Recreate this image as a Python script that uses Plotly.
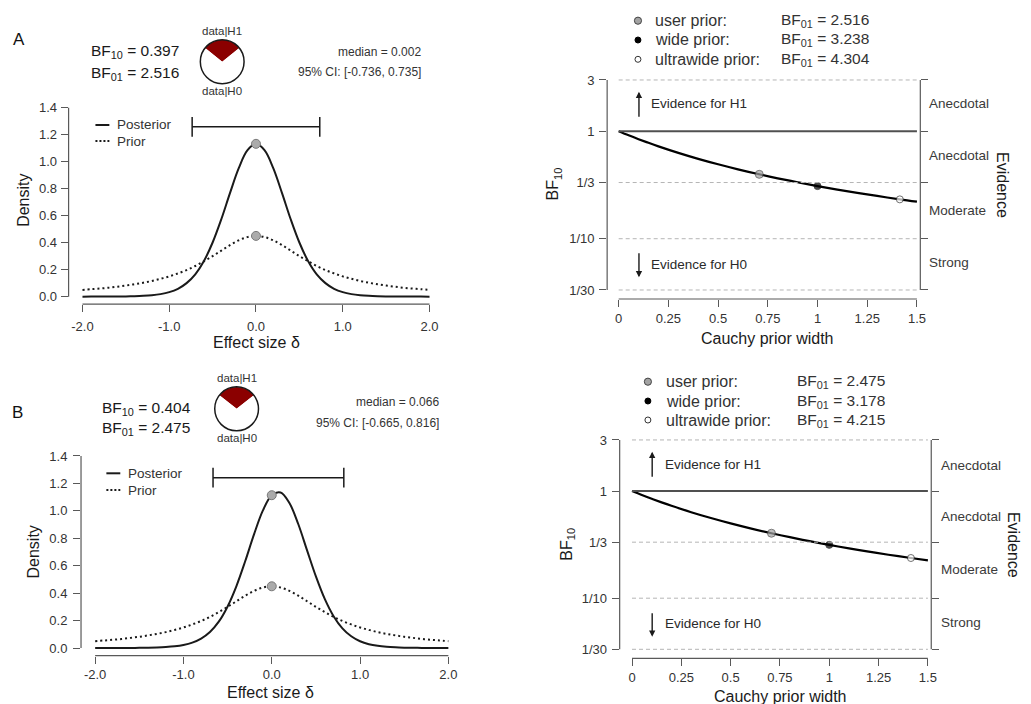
import math
import plotly.graph_objects as go

W, H = 1031, 704
FONT = "Liberation Sans, Arial, Helvetica, sans-serif"
INK = "#1a1a1a"
AXC = "#595959"
TXT = "#333333"

# ---------------- data ----------------
# effect size grid and densities (prior is the same Cauchy in both rows)
delta = [-2.0, -1.9, -1.8, -1.7, -1.6, -1.5, -1.4, -1.3, -1.2, -1.1, -1.0,
         -0.9, -0.8, -0.7, -0.6, -0.5, -0.4, -0.3, -0.2, -0.1, 0.0,
         0.1, 0.2, 0.3, 0.4, 0.5, 0.6, 0.7, 0.8, 0.9, 1.0,
         1.1, 1.2, 1.3, 1.4, 1.5, 1.6, 1.7, 1.8, 1.9, 2.0]
prior_density = [0.050, 0.055, 0.060, 0.066, 0.074, 0.082, 0.092, 0.103, 0.116, 0.132, 0.150,
                 0.172, 0.197, 0.227, 0.262, 0.300, 0.341, 0.382, 0.417, 0.441, 0.450,
                 0.441, 0.417, 0.382, 0.341, 0.300, 0.262, 0.227, 0.197, 0.172, 0.150,
                 0.132, 0.116, 0.103, 0.092, 0.082, 0.074, 0.066, 0.060, 0.055, 0.050]
posterior_A = [0.0001, 0.0002, 0.0003, 0.0005, 0.0010, 0.0017, 0.0031, 0.0057, 0.0103, 0.0186, 0.0332,
               0.058, 0.100, 0.165, 0.264, 0.401, 0.573, 0.767, 0.950, 1.083, 1.132,
               1.083, 0.950, 0.767, 0.573, 0.401, 0.264, 0.165, 0.100, 0.058, 0.0332,
               0.0186, 0.0103, 0.0057, 0.0031, 0.0017, 0.0010, 0.0005, 0.0003, 0.0002, 0.0001]
posterior_B = [0.0001, 0.0001, 0.0002, 0.0004, 0.0007, 0.0012, 0.0021, 0.0038, 0.0069, 0.0124, 0.0223,
               0.0396, 0.069, 0.117, 0.192, 0.303, 0.452, 0.634, 0.830, 1.003, 1.114,
               1.134, 1.057, 0.904, 0.712, 0.522, 0.358, 0.232, 0.1435, 0.0856, 0.0495,
               0.0281, 0.0157, 0.0087, 0.0048, 0.0026, 0.0015, 0.0008, 0.0005, 0.0003, 0.0002]

bf10_text = [0.397, 0.404]
bf01_text = [2.516, 2.475]
posterior_at_zero = [1.132, 1.114]
prior_at_zero = [0.450, 0.450]
medians = [0.002, 0.066]
ci_lower = [-0.736, -0.665]
ci_upper = [0.735, 0.816]

# Bayes factor robustness over the Cauchy prior width
prior_width = [0.0, 0.05, 0.1, 0.15, 0.2, 0.3, 0.4, 0.5, 0.6, 0.707, 0.8, 0.9,
               1.0, 1.1, 1.2, 1.3, 1.414, 1.5]
robust_bf10_A = [1.0, 0.9167, 0.8440, 0.7801, 0.7237, 0.6293, 0.5538, 0.4926, 0.4422, 0.3975,
                 0.3649, 0.3352, 0.3088, 0.2866, 0.2670, 0.2499, 0.2323, 0.2210]
robust_bf10_B = [1.0, 0.9185, 0.8470, 0.7841, 0.7285, 0.6349, 0.5599, 0.4988, 0.4484, 0.4040,
                 0.3710, 0.3406, 0.3147, 0.2917, 0.2721, 0.2545, 0.2372, 0.2253]
named_widths = [0.707, 1.0, 1.414]
named_priors = ["user prior:", "wide prior:", "ultrawide prior:"]
named_bf01_A = [2.516, 3.238, 4.304]
named_bf01_B = [2.475, 3.178, 4.215]

# tick values / labels
delta_ticks = [-2, -1, 0, 1, 2]
delta_tick_labels = ["-2.0", "-1.0", "0.0", "1.0", "2.0"]
density_ticks = [0, 0.2, 0.4, 0.6, 0.8, 1.0, 1.2, 1.4]
density_tick_labels = ["0.0", "0.2", "0.4", "0.6", "0.8", "1.0", "1.2", "1.4"]
width_ticks = [0, 0.25, 0.5, 0.75, 1, 1.25, 1.5]
width_tick_labels = ["0", "0.25", "0.5", "0.75", "1", "1.25", "1.5"]
bf_ticks = [3, 1, 1 / 3, 1 / 10, 1 / 30]
bf_tick_labels = ["3", "1", "1/3", "1/10", "1/30"]
evidence_bands = ["Anecdotal", "Anecdotal", "Moderate", "Strong"]

# ---------------- helpers ----------------
def fx(p):
    return p / W


def fy(p):
    return 1 - p / H


fig = go.Figure()
shapes = []
annotations = []


def text(x, y, s, size, xanchor="left", color=TXT, angle=0):
    annotations.append(dict(x=fx(x), y=fy(y), xref="paper", yref="paper", text=s,
                            showarrow=False, xanchor=xanchor, yanchor="middle",
                            textangle=angle, font=dict(family=FONT, size=size, color=color)))


def hline_px(x0, x1, y, color=INK, width=2, dash=None):
    shapes.append(dict(type="line", xref="paper", yref="paper", x0=fx(x0), x1=fx(x1),
                       y0=fy(y), y1=fy(y), line=dict(color=color, width=width, dash=dash)))


def circle_px(cx, cy, r, fill, line_color, lw=1):
    shapes.append(dict(type="circle", xref="paper", yref="paper", x0=fx(cx - r), x1=fx(cx + r),
                       y0=fy(cy + r), y1=fy(cy - r), fillcolor=fill,
                       line=dict(color=line_color, width=lw), layer="above"))


def arrow_px(x, y_head, y_tail):
    annotations.append(dict(x=fx(x), y=fy(y_head), xref="paper", yref="paper", text="",
                            showarrow=True, ax=0, ay=y_tail - y_head, arrowhead=2,
                            arrowsize=0.9, arrowwidth=1.4, arrowcolor=INK))


axis_common = dict(showgrid=False, zeroline=False, showline=False, ticks="outside",
                   ticklen=7, tickwidth=1, tickcolor=AXC, fixedrange=True,
                   tickfont=dict(family=FONT, size=13, color=TXT))


# ---------------- prior / posterior panels ----------------
def density_panel(i, xa, ya, g, posterior):
    xs = "x" if xa == "xaxis" else "x" + xa[5:]
    ys = "y" if ya == "yaxis" else "y" + ya[5:]
    fig.add_trace(go.Scatter(x=delta, y=prior_density, mode="lines", xaxis=xs, yaxis=ys,
                             line=dict(color=INK, width=2, dash="2px,3px", shape="spline"),
                             hoverinfo="skip", showlegend=False))
    fig.add_trace(go.Scatter(x=delta, y=posterior, mode="lines", xaxis=xs, yaxis=ys,
                             line=dict(color=INK, width=2, shape="spline"),
                             hoverinfo="skip", showlegend=False))
    fig.add_trace(go.Scatter(x=[ci_lower[i], ci_upper[i]], y=[g["ci_y"], g["ci_y"]],
                             mode="lines+markers", xaxis=xs, yaxis=ys,
                             line=dict(color=INK, width=1.5),
                             marker=dict(symbol="line-ns", size=14, line=dict(color=INK, width=1.5)),
                             hoverinfo="skip", showlegend=False))
    fig.add_trace(go.Scatter(x=[0, 0], y=[posterior_at_zero[i], prior_at_zero[i]], mode="markers",
                             xaxis=xs, yaxis=ys,
                             marker=dict(size=9, color="#ababab", line=dict(color="#7a7a7a", width=1)),
                             hoverinfo="skip", showlegend=False))

    fig.update_layout(**{
        xa: dict(domain=[fx(g["x0"]), fx(g["x1"])], range=[-2.16, 2.16], anchor=ys,
                 tickvals=delta_ticks, ticktext=delta_tick_labels,
                 ticklabelstandoff=g["xstand"], **axis_common),
        ya: dict(domain=[fy(g["y1"]), fy(g["y0"])], range=[-0.056, 1.456], anchor=xs,
                 tickvals=density_ticks, ticktext=density_tick_labels,
                 ticklabelstandoff=g["ystand"], **axis_common),
    })
    # R-style axis lines spanning first to last tick
    shapes.append(dict(type="line", xref=xs, yref=ys + " domain", x0=delta_ticks[0],
                       x1=delta_ticks[-1], y0=0, y1=0, line=dict(color=AXC, width=1.2)))
    shapes.append(dict(type="line", xref=xs + " domain", yref=ys, x0=0, x1=0,
                       y0=density_ticks[0], y1=density_ticks[-1], line=dict(color=AXC, width=1.2)))

    # axis titles
    text(g["xt_x"], g["xt_y"], "Effect size \u03b4", 16, xanchor="center", color=INK)
    text(g["yt_x"], g["yt_y"], "Density", 16, xanchor="center", color=INK, angle=-90)

    # legend
    hline_px(g["lg_x"], g["lg_x"] + 14, g["lg_y1"], color=INK, width=2)
    hline_px(g["lg_x"], g["lg_x"] + 14, g["lg_y2"], color=INK, width=2, dash="2px,2px")
    text(g["lg_x"] + 20, g["lg_y1"], "Posterior", 13.5, color=TXT)
    text(g["lg_x"] + 20, g["lg_y2"], "Prior", 13.5, color=TXT)

    # Bayes factor texts
    text(g["bf_x"], g["bf_y1"], "BF<sub>10</sub> = %.3f" % bf10_text[i], 15.5, color=INK)
    text(g["bf_x"], g["bf_y2"], "BF<sub>01</sub> = %.3f" % bf01_text[i], 15.5, color=INK)
    text(g["md_x"], g["md_y1"], "median = %.3f" % medians[i], 12, xanchor="right", color=TXT)
    text(g["md_x"], g["md_y2"], "95%% CI: [%.3f, %.3f]" % (ci_lower[i], ci_upper[i]), 12,
         xanchor="right", color=TXT)

    # probability wheel
    cx, cy, r = g["pie_cx"], g["pie_cy"], g["pie_r"]
    red_angle = 360 * bf10_text[i] / (1 + bf10_text[i])
    fig.add_trace(go.Pie(values=[bf10_text[i], 1], labels=["data|H1", "data|H0"], sort=False,
                         direction="clockwise", rotation=-red_angle / 2,
                         marker=dict(colors=["#8b0000", "#ffffff"], line=dict(width=0)),
                         textinfo="none", hoverinfo="skip", showlegend=False,
                         domain=dict(x=[fx(cx - r), fx(cx + r)], y=[fy(cy + r), fy(cy - r)])))
    circle_px(cx, cy, r, "rgba(0,0,0,0)", INK, lw=1.5)
    text(cx, cy - r - 9, "data|H1", 11.5, xanchor="center", color=TXT)
    text(cx, cy + r + 7, "data|H0", 11.5, xanchor="center", color=TXT)

    text(g["tag_x"], g["tag_y"], g["tag"], 17, xanchor="center", color="#111111")


# ---------------- robustness panels ----------------
def robustness_panel(i, xa, ya, yra, g, curve, bf01s):
    xs = "x" + xa[5:]
    ys = "y" + ya[5:]
    yrs = "y" + yra[5:]
    lo, hi = -1.561, 0.555

    for v in bf_ticks:
        solid = v == 1
        fig.add_trace(go.Scatter(x=[width_ticks[0], width_ticks[-1]], y=[v, v], mode="lines",
                                 xaxis=xs, yaxis=yrs,
                                 line=dict(color="#505050" if solid else "#b5b5b5",
                                           width=2 if solid else 1,
                                           dash=None if solid else "4px,3px"),
                                 hoverinfo="skip", showlegend=False))
    fig.add_trace(go.Scatter(x=prior_width, y=curve, mode="lines", xaxis=xs, yaxis=ys,
                             line=dict(color="black", width=2.2, shape="spline"),
                             hoverinfo="skip", showlegend=False))
    fig.add_trace(go.Scatter(x=named_widths, y=[1 / b for b in bf01s], mode="markers",
                             xaxis=xs, yaxis=ys,
                             marker=dict(size=[8, 7, 7], color=["#a3a3a3", "black", "white"],
                                         line=dict(color=["#444444", "black", "#333333"], width=1)),
                             hoverinfo="skip", showlegend=False))

    ylog = dict(type="log", range=[lo, hi], tickvals=bf_ticks, ticktext=bf_tick_labels)
    fig.update_layout(**{
        xa: dict(domain=[fx(g["x0"]), fx(g["x1"])], range=g["xrange"], anchor=ys,
                 tickvals=width_ticks, ticktext=width_tick_labels,
                 ticklabelstandoff=g["xstand"], **axis_common),
        ya: dict(domain=[fy(g["y1"]), fy(g["y0"])], anchor=xs,
                 ticklabelstandoff=g["ystand"], **ylog, **axis_common),
        yra: dict(domain=[fy(g["y1"]), fy(g["y0"])], anchor=xs, overlaying=ys, side="right",
                  showticklabels=False, **ylog, **axis_common),
    })
    f0 = (math.log10(bf_ticks[-1]) - lo) / (hi - lo)
    f1 = (math.log10(bf_ticks[0]) - lo) / (hi - lo)
    shapes.append(dict(type="line", xref=xs, yref=ys + " domain", x0=width_ticks[0],
                       x1=width_ticks[-1], y0=0, y1=0, line=dict(color=AXC, width=1.2)))
    shapes.append(dict(type="line", xref=xs + " domain", yref=ys + " domain", x0=0, x1=0,
                       y0=f0, y1=f1, line=dict(color=AXC, width=1.2)))
    shapes.append(dict(type="line", xref=xs + " domain", yref=ys + " domain", x0=1, x1=1,
                       y0=f0, y1=f1, line=dict(color=AXC, width=1.2)))

    # evidence categories on the right
    for lab, yy in zip(evidence_bands, g["band_y"]):
        text(g["band_x"], yy, lab, 13.5, color="#3a3a3a")
    text(g["ev_x"], g["ev_y"], "Evidence", 16, xanchor="center", color=INK, angle=90)

    # axis titles
    text(g["xt_x"], g["xt_y"], "Cauchy prior width", 16, xanchor="center", color=INK)
    text(g["yt_x"], g["yt_y"], "BF<sub>10</sub>", 16, xanchor="center", color=INK, angle=-90)

    # direction arrows
    arrow_px(g["ar_x"], g["up_head"], g["up_tail"])
    arrow_px(g["ar_x"], g["dn_head"], g["dn_tail"])
    text(g["ar_x"] + 10.5, g["up_txt"], "Evidence for H1", 13.5, color="#2a2a2a")
    text(g["ar_x"] + 10.5, g["dn_txt"], "Evidence for H0", 13.5, color="#2a2a2a")

    # legend of named priors
    sym = [("#a3a3a3", "#444444", 3.6), ("black", "black", 3.0), ("white", "#333333", 3.0)]
    for k in range(3):
        yy = g["lg_y"][k]
        fill, edge, rr = sym[k]
        circle_px(g["lg_sx"], yy, rr, fill, edge, lw=1)
        text(g["lg_tx"], yy, named_priors[k], 16, color=TXT)
        text(g["lg_bx"], yy, "BF<sub>01</sub> = %.3f" % bf01s[k], 15.5, color=TXT)


geo_A = dict(x0=69, x1=446, y0=100.1, y1=304.2, ci_y=1.258, xstand=3, ystand=1,
             xt_x=258.3, xt_y=342.3, yt_x=23, yt_y=200,
             lg_x=96, lg_y1=125, lg_y2=141,
             bf_x=90, bf_y1=51, bf_y2=73, md_x=425, md_y1=52, md_y2=72,
             pie_cx=223.5, pie_cy=61.7, pie_r=22, tag="A", tag_x=19.5, tag_y=39)
geo_B = dict(x0=81.5, x1=465.2, y0=448.3, y1=655.7, ci_y=1.242, xstand=0, ystand=3,
             xt_x=271.7, xt_y=692, yt_x=34, yt_y=551.7,
             lg_x=107, lg_y1=473.3, lg_y2=490,
             bf_x=101, bf_y1=408.3, bf_y2=428.5, md_x=443.3, md_y1=402, md_y2=423,
             pie_cx=238, pie_cy=408.8, pie_r=22, tag="B", tag_x=18, tag_y=412)

geo_RA = dict(x0=610.7, x1=925.7, xrange=[-0.058, 1.517], y0=71.6, y1=299, xstand=0, ystand=2,
              band_x=932.7, band_y=[103.3, 155.7, 210, 262.7], ev_x=1008.3, ev_y=185.5,
              xt_x=771.7, xt_y=338.3, yt_x=556.7, yt_y=184,
              ar_x=642.7, up_head=91.7, up_tail=118.3, dn_head=277.3, dn_tail=251.7,
              up_txt=104, dn_txt=264,
              lg_sx=641.7, lg_tx=656.7, lg_bx=783.3, lg_y=[20.7, 40, 59.3])
geo_RB = dict(x0=623.3, x1=936.7, xrange=[-0.0625, 1.517], y0=431.6, y1=658.3, xstand=0, ystand=2,
              band_x=944, band_y=[465, 516.7, 569.3, 622.7], ev_x=1020, ev_y=545,
              xt_x=785, xt_y=696, yt_x=570, yt_y=544,
              ar_x=656, up_head=451.7, up_tail=478.3, dn_head=636.7, dn_tail=611.7,
              up_txt=464.3, dn_txt=623.3,
              lg_sx=651.7, lg_tx=668.3, lg_bx=799.3, lg_y=[381.7, 401, 420])

density_panel(0, "xaxis", "yaxis", geo_A, posterior_A)
density_panel(1, "xaxis2", "yaxis2", geo_B, posterior_B)
robustness_panel(0, "xaxis3", "yaxis3", "yaxis5", geo_RA, robust_bf10_A, named_bf01_A)
robustness_panel(1, "xaxis4", "yaxis4", "yaxis6", geo_RB, robust_bf10_B, named_bf01_B)

fig.update_layout(width=W, height=H, autosize=False,
                  margin=dict(l=0, r=0, t=0, b=0, pad=0),
                  paper_bgcolor="white", plot_bgcolor="white",
                  showlegend=False, shapes=shapes, annotations=annotations,
                  font=dict(family=FONT, color=TXT))

fig.write_html("out.html")
